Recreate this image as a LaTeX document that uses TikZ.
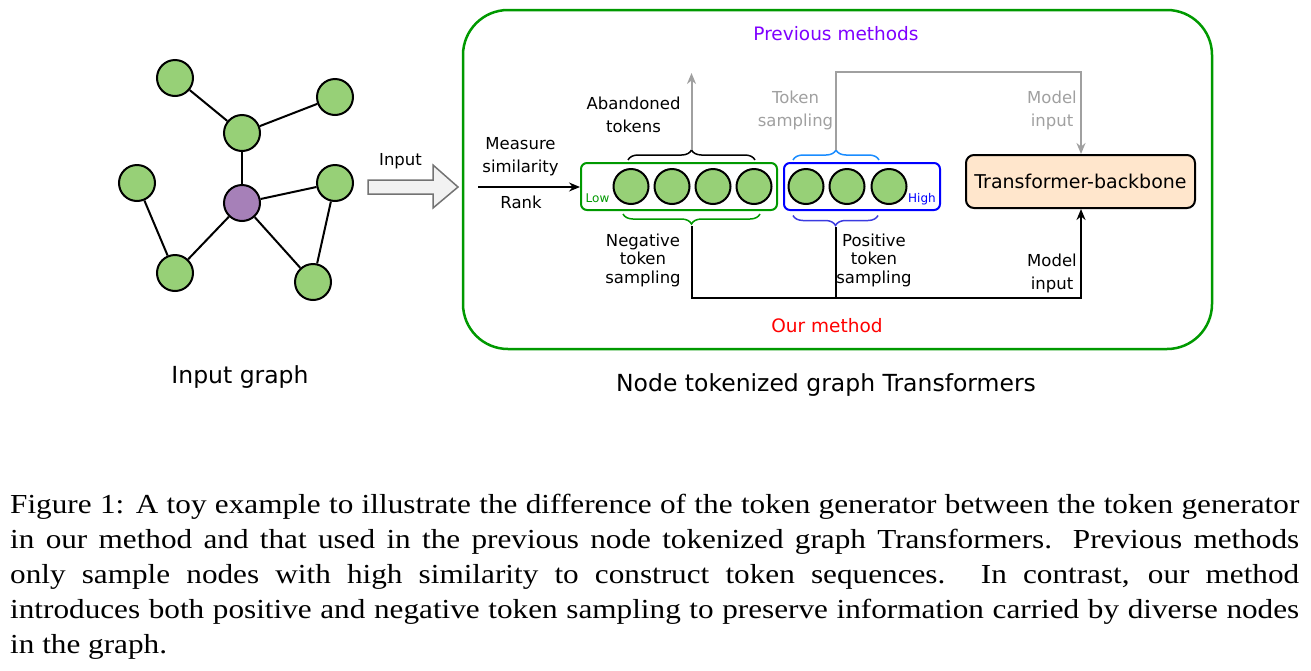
\documentclass[tikz,border=0pt]{standalone}
\usepackage{fontspec}
\setmainfont{Liberation Serif}
\newfontfamily\capfont[FakeStretch=1.135]{Liberation Serif}
\newfontfamily\dfont{DejaVu Sans}
\usetikzlibrary{arrows.meta,decorations.pathreplacing,calc}

\definecolor{gfill}{HTML}{97D077}
\definecolor{pfill}{HTML}{A680B8}
\definecolor{boxgreen}{HTML}{009900}
\definecolor{lblue}{HTML}{1A8CFF}
\definecolor{dblue}{HTML}{3B3BE0}
\definecolor{pgray}{HTML}{A0A0A0}
\definecolor{tfill}{HTML}{FFE6CC}
\definecolor{prevc}{HTML}{7F00FF}
\definecolor{arrfill}{HTML}{F2F2F2}

\begin{document}
\begin{tikzpicture}[x=1pt,y=-1pt,
  gnode/.style={circle,draw=black,fill=gfill,line width=2pt,minimum size=36pt,inner sep=0pt},
  pnode/.style={gnode,fill=pfill},
  tok/.style={circle,draw=black,fill=gfill,line width=2pt,minimum size=35pt,inner sep=0pt},
  edge/.style={line width=2pt,black},
  lbl/.style={font=\dfont\fontsize{16.5}{23}\selectfont,align=center,inner sep=0pt},
  lbltight/.style={font=\dfont\fontsize{16.5}{18.5}\selectfont,align=center,inner sep=0pt},
  title/.style={font=\dfont\fontsize{23.5}{28}\selectfont,inner sep=0pt},
  htitle/.style={font=\dfont\fontsize{18.5}{22}\selectfont,inner sep=0pt},
  small/.style={font=\dfont\fontsize{12}{14}\selectfont,inner sep=0pt},
  conn/.style={line width=2pt,black},
  gconn/.style={line width=2pt,pgray},
  brc/.style={decorate,line width=1.5pt},
  tip/.style={-{Stealth[length=11pt,width=9pt]}},
]
\path[use as bounding box] (0,0) rectangle (1311,670);

% ---------- input graph ----------
\node[gnode] (g1) at (175,78) {};
\node[gnode] (g2) at (335,97) {};
\node[gnode] (g3) at (242,133) {};
\node[gnode] (g4) at (137,183) {};
\node[gnode] (g5) at (335,183) {};
\node[pnode] (g6) at (242,203) {};
\node[gnode] (g7) at (175,273) {};
\node[gnode] (g8) at (313,282) {};
\draw[edge] (g1) -- (g3);
\draw[edge] (g2) -- (g3);
\draw[edge] (g3) -- (g6);
\draw[edge] (g6) -- (g5);
\draw[edge] (g6) -- (g7);
\draw[edge] (g6) -- (g8);
\draw[edge] (g4) -- (g7);
\draw[edge] (g5) -- (g8);
\node[title] (ig) at (240,377) {Input graph};

% ---------- input arrow ----------
\draw[line width=1.5pt,draw=black!55,fill=arrfill]
  (368,180) -- (433,180) -- (433,165) -- (458,187) -- (433,208) -- (433,194) -- (368,194) -- cycle;
\node[lbl] (inlbl) at (400.5,161) {Input};

% ---------- main frame ----------
\draw[line width=2.5pt,boxgreen,rounded corners=45pt] (463,10) rectangle (1212,349);
\node[htitle,text=prevc] (prev) at (836,34) {Previous methods};
\node[htitle,text=red] (ours) at (827,326) {Our method};
\node[title] (ntg) at (826,385) {Node tokenized graph Transformers};

% ---------- token boxes ----------
\draw[line width=2pt,boxgreen,rounded corners=6pt] (581,163) rectangle (777,210);
\draw[line width=2pt,blue,rounded corners=6pt] (784,163) rectangle (940,210);
\node[tok] (t1) at (631,186.5) {};
\node[tok] (t2) at (672,186.5) {};
\node[tok] (t3) at (713,186.5) {};
\node[tok] (t4) at (754,186.5) {};
\node[tok] (t5) at (806,186.5) {};
\node[tok] (t6) at (847,186.5) {};
\node[tok] (t7) at (889,186.5) {};
\node[small,text=boxgreen] (low) at (597.5,198.5) {Low};
\node[small,text=blue] (high) at (922,199) {High};

% ---------- measure / rank ----------
\coordinate (msstart) at (478,187);
\draw[conn,line width=1.5pt,tip] (msstart) -- (580,187);
\node[lbl] (ms) at (520.5,156.5) {Measure\\similarity};
\node[lbl] (rank) at (521,202) {Rank};

% ---------- braces ----------
\draw[brc,black,decoration={brace,amplitude=10pt}] (628,160) -- (755,160);
\draw[brc,boxgreen,decoration={brace,amplitude=10pt,mirror}] (623,214) -- (760,214);
\draw[brc,lblue,decoration={brace,amplitude=10pt}] (793,160) -- (879,160);
\draw[brc,dblue,decoration={brace,amplitude=10pt,mirror}] (793,215.5) -- (878,215.5);
\coordinate (abtip) at (691.5,150);
\coordinate (abtop) at (691.5,73);
\coordinate (negtip) at (691.5,226);
\coordinate (postip) at (836,227);
\coordinate (ptip) at (836,150);
\coordinate (ptopl) at (836,72);
\coordinate (ptopr) at (1081,72);
\coordinate (bottomr) at (1081,298);

% ---------- transformer ----------
\node[draw=black,fill=tfill,line width=2pt,rounded corners=8pt,minimum width=229pt,minimum height=53pt,
  font=\dfont\fontsize{19}{22}\selectfont,inner sep=0pt] (tb) at (1080.5,181.5) {Transformer-backbone};

% ---------- connectors ----------
\draw[gconn,tip] (abtip) -- (abtop);
\draw[gconn,tip] (ptip) -- (ptopl) -- (ptopr) -- (tb.north -| ptopr);
\draw[conn,tip] (negtip) |- (bottomr) -- (tb.south -| bottomr);
\draw[conn] (postip) -- (postip |- bottomr);

% ---------- labels ----------
\node[lbl] (abl) at (633.5,115) {Abandoned\\tokens};
\node[lbl,text=pgray] (tsl) at (795.5,110.5) {Token\\sampling};
\node[lbl,text=pgray] (mil1) at (1052,110.5) {Model\\input};
\node[lbl] (mil2) at (1052,273.5) {Model\\input};
\node[lbltight] (neg) at (643,260) {Negative\\token\\sampling};
\node[lbltight] (pos) at (874,260) {Positive\\token\\sampling};

% ---------- caption ----------
\node[anchor=base west,inner sep=0pt] (cap) at (10,513) {\parbox[t]{1289pt}{\capfont\fontsize{27.5}{35}\selectfont
Figure 1: A toy example to illustrate the difference of the token generator between the token generator\linebreak
in our method and that used in the previous node tokenized graph Transformers. Previous methods\linebreak
only sample nodes with high similarity to construct token sequences. In contrast, our method\linebreak
introduces both positive and negative token sampling to preserve information carried by diverse nodes\linebreak
in the graph.}};
\end{tikzpicture}
\end{document}
